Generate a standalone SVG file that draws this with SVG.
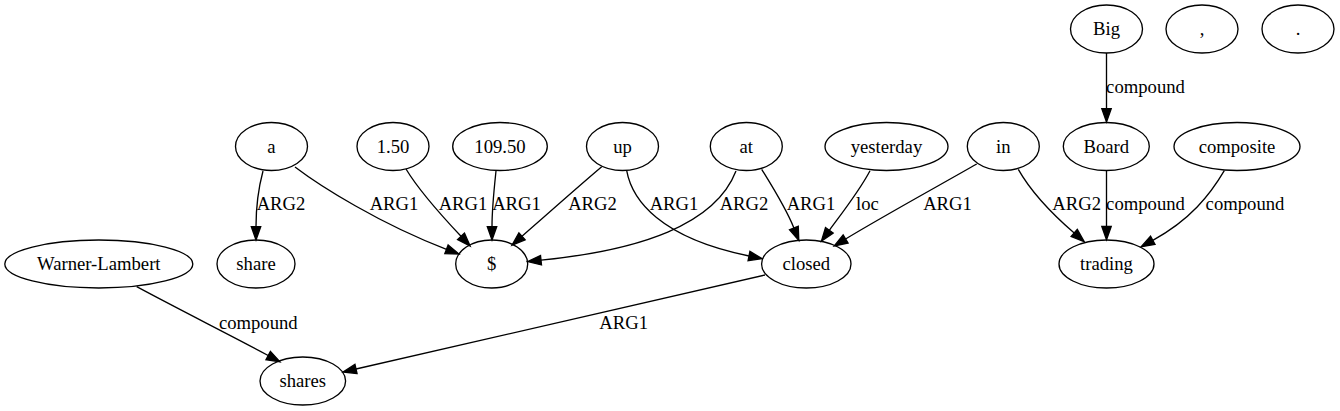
<svg xmlns="http://www.w3.org/2000/svg" width="1340" height="411" viewBox="0 0 1340 411">
<style>
.n ellipse{fill:none;stroke:#000;stroke-width:1.33}
text{font-family:"Liberation Serif","Times New Roman",serif;font-size:18.67px;fill:#000;text-anchor:middle}
.e path{fill:none;stroke:#000;stroke-width:1.33;marker-end:url(#ah)}
</style>
<defs>
<marker id="ah" markerUnits="userSpaceOnUse" markerWidth="16" markerHeight="12" refX="0" refY="0" viewBox="0 -6 16 12" orient="auto" overflow="visible">
<path d="M0,-4.7 L13.3,0 L0,4.7 Z" fill="#000" stroke="#000" stroke-width="1.33"/>
</marker>
</defs>
<rect width="1340" height="411" fill="#fff"/>
<g id="edges" class="e">
<path d="M263,171 C259,186 256,205 256,226.7"/>
<path d="M295,167 C320,186 380,224 446.5,249.3"/>
<path d="M406,169 C418,189 440,214 461,236.3"/>
<path d="M496,171 C494,190 492,208 492,226.7"/>
<path d="M601.7,166.7 C580,185 545,216 522,236.3"/>
<path d="M626.7,170.7 C632,200 660,238 749,256"/>
<path d="M736,171 C715,225 640,250 541,260.2"/>
<path d="M761.7,169.3 C772,186 786,208 793.9,228"/>
<path d="M870,170.7 C860,190 842,213 829.3,230.3"/>
<path d="M976.7,164 C940,185 880,218 845.6,239"/>
<path d="M1018.3,169.3 C1030,190 1050,212 1074.2,233"/>
<path d="M1106.5,170.5 L1106.5,226.5"/>
<path d="M1224.3,170.7 C1210,195 1190,220 1152.8,240.3"/>
<path d="M1106.5,53 L1106.5,108.7"/>
<path d="M136.7,286.7 C180,310 230,335 268.2,355.5"/>
<path d="M765,275 L356,369"/>
<g id="edge-labels">
<text x="281" y="210">ARG2</text>
<text x="394" y="210">ARG1</text>
<text x="463" y="210">ARG1</text>
<text x="516.5" y="210">ARG1</text>
<text x="592.5" y="210">ARG2</text>
<text x="674" y="210">ARG1</text>
<text x="744" y="210">ARG2</text>
<text x="811" y="210">ARG1</text>
<text x="867.5" y="210">loc</text>
<text x="947.5" y="210">ARG1</text>
<text x="1076.7" y="210">ARG2</text>
<text x="1145.5" y="210">compound</text>
<text x="1245" y="210">compound</text>
<text x="1145.5" y="93">compound</text>
<text x="258.3" y="328.5">compound</text>
<text x="623.7" y="328.5">ARG1</text>
</g>
</g>
<g id="node-Big" class="n"><ellipse cx="1106.5" cy="29" rx="36" ry="24"/><text x="1106.5" y="35">Big</text></g>
<g id="node-comma" class="n"><ellipse cx="1202" cy="29" rx="36" ry="24"/><text x="1202" y="35">,</text></g>
<g id="node-period" class="n"><ellipse cx="1298" cy="29" rx="36" ry="24"/><text x="1298" y="35">.</text></g>
<g id="node-a" class="n"><ellipse cx="271.5" cy="146.5" rx="36" ry="24"/><text x="271.5" y="152.5">a</text></g>
<g id="node-1.50" class="n"><ellipse cx="393" cy="146.5" rx="36" ry="24"/><text x="393" y="152.5">1.50</text></g>
<g id="node-109.50" class="n"><ellipse cx="500" cy="146.5" rx="47.3" ry="24"/><text x="500" y="152.5">109.50</text></g>
<g id="node-up" class="n"><ellipse cx="622.5" cy="146.5" rx="36" ry="24"/><text x="622.5" y="152.5">up</text></g>
<g id="node-at" class="n"><ellipse cx="746.3" cy="146.5" rx="36" ry="24"/><text x="746.3" y="152.5">at</text></g>
<g id="node-yesterday" class="n"><ellipse cx="886.5" cy="146.5" rx="61.5" ry="24"/><text x="886.5" y="152.5">yesterday</text></g>
<g id="node-in" class="n"><ellipse cx="1003.3" cy="146.5" rx="36" ry="24"/><text x="1003.3" y="152.5">in</text></g>
<g id="node-Board" class="n"><ellipse cx="1106.3" cy="146.5" rx="43" ry="24"/><text x="1106.3" y="152.5">Board</text></g>
<g id="node-composite" class="n"><ellipse cx="1237" cy="146.5" rx="63" ry="24"/><text x="1237" y="152.5">composite</text></g>
<g id="node-Warner-Lambert" class="n"><ellipse cx="98.8" cy="264" rx="94" ry="24"/><text x="98.8" y="270">Warner-Lambert</text></g>
<g id="node-share" class="n"><ellipse cx="256" cy="264" rx="39" ry="24"/><text x="256" y="270">share</text></g>
<g id="node-dollar" class="n"><ellipse cx="491.7" cy="264" rx="36" ry="24"/><text x="491.7" y="270">$</text></g>
<g id="node-closed" class="n"><ellipse cx="806.3" cy="264" rx="44.7" ry="24"/><text x="806.3" y="270">closed</text></g>
<g id="node-trading" class="n"><ellipse cx="1106.5" cy="264" rx="47.5" ry="24"/><text x="1106.5" y="270">trading</text></g>
<g id="node-shares" class="n"><ellipse cx="302.8" cy="381" rx="42.8" ry="24"/><text x="302.8" y="387">shares</text></g>
</svg>
